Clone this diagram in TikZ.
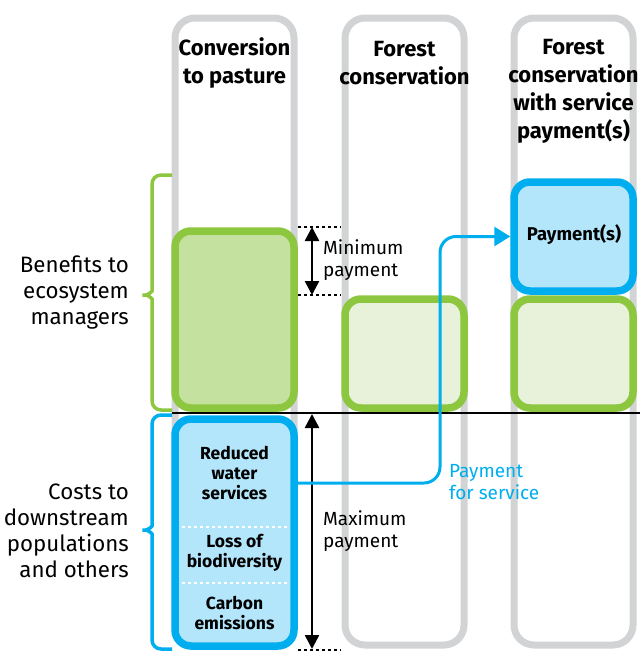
\documentclass[tikz,border=0pt]{standalone}
\usepackage{fontspec}
\setmainfont{Fira Sans}
\usetikzlibrary{arrows.meta}
\definecolor{colgray}{HTML}{D1D3D4}
\definecolor{grn}{HTML}{8DC63F}
\definecolor{grnfillA}{HTML}{C5E1A0}
\definecolor{grnfillB}{HTML}{E8F2DA}
\definecolor{blu}{HTML}{00AEEF}
\definecolor{blufill}{HTML}{B3E6FA}
\tikzset{
  column/.style={draw=colgray, line width=7pt, rounded corners=20pt, minimum width=119pt, minimum height=627pt, inner sep=0pt},
  greenbox/.style={draw=grn, line width=7.5pt, rounded corners=16pt, minimum width=119pt, inner sep=0pt},
  bluebox/.style={draw=blu, line width=7.5pt, rounded corners=16pt, minimum width=119pt, inner sep=0pt, fill=blufill},
  title/.style={font=\bfseries\fontsize{22}{28}\selectfont, align=center, inner sep=0pt},
  inbox/.style={font=\bfseries\fontsize{17.5}{20}\selectfont, align=center, inner sep=0pt},
  sidelabel/.style={font=\fontsize{22.3}{26}\selectfont, align=right, anchor=east, inner sep=0pt},
  note/.style={font=\fontsize{19}{22}\selectfont, align=left, anchor=west, inner sep=0pt},
  dimarrow/.style={line width=2.5pt, {Triangle[length=14pt,width=14pt]}-{Triangle[length=14pt,width=14pt]}},
  dotline/.style={line width=2pt, dash pattern=on 3pt off 3pt},
  sep/.style={white, line width=1.5pt, dash pattern=on 3pt off 3pt},
}
\begin{document}
\begin{tikzpicture}[x=1pt,y=-1pt]
\useasboundingbox (0,0) rectangle (640,651);
% columns
\node[column] (c1) at (234.5,331.5) {};
\node[column] (c2) at (404.5,331.5) {};
\node[column] (c3) at (573.5,331.5) {};
% titles
\node[title] (t1) at (234.5,63) {Conversion\\to pasture};
\node[title] (t2) at (404.5,63) {Forest\\conservation};
\node[title] (t3) at (573.5,91) {Forest\\conservation\\with service\\payment(s)};
% boxes
\node[greenbox, fill=grnfillA, minimum height=177pt] (g1) at (234.5,319.5) {};
\node[greenbox, fill=grnfillB, minimum height=109pt] (g2) at (404.5,353.5) {};
\node[greenbox, fill=grnfillB, minimum height=109pt] (g3) at (573.5,353.5) {};
\node[bluebox, minimum height=109pt] (pay) at (573.5,236.5) {};
\node[inbox, font=\bfseries\fontsize{18.5}{20}\selectfont] (paytxt) at (574,235) {Payment(s)};
\node[bluebox, minimum height=227pt] (cost) at (234.5,532.5) {};
\node[inbox] (rw) at (234.5,473) {Reduced\\water\\services};
\node[inbox] (lb) at (234.5,553) {Loss of\\biodiversity};
\node[inbox] (ce) at (234.5,613) {Carbon\\emissions};
\draw[sep] (182,527) -- (288,527);
\draw[sep] (182,583) -- (288,583);
% baseline
\coordinate (lineL) at (172,412.5);
\coordinate (lineR) at (640,412.5);
\draw[line width=2pt] (lineL) -- (lineR);
% brackets
\draw[grn, line width=3.5pt, rounded corners=9pt] (172,175) -- (152,175) -- (152,282)
  .. controls (152,292) and (147,295) .. (137,295)
  .. controls (147,295) and (152,298) .. (152,308) -- (152,410) -- (172,410);
\draw[blu, line width=3.5pt, rounded corners=9pt] (172,415) -- (152,415) -- (152,517)
  .. controls (152,527) and (147,530) .. (137,530)
  .. controls (147,530) and (152,533) .. (152,543) -- (152,649) -- (172,649);
% side labels
\node[sidelabel] (ben) at (129,293) {Benefits to\\ecosystem\\managers};
\node[sidelabel] (cst) at (129,531) {Costs to\\downstream\\populations\\and others};
% minimum payment
\coordinate (minT) at (312,227);
\coordinate (minB) at (312,295);
\draw[dotline] (298,227) -- (341,227);
\draw[dotline] (298,295) -- (341,295);
\draw[dimarrow] (minT) -- (minB);
\node[note] (minlab) at (323,260.5) {Minimum\\payment};
% maximum payment
\coordinate (maxT) at (312,414);
\coordinate (maxB) at (312,649);
\draw[dotline] (298,650) -- (341,650);
\draw[dimarrow] (maxT) -- (maxB);
\node[note] (maxlab) at (323,531.5) {Maximum\\payment};
% payment arrow
\coordinate (py) at (0,483);
\draw[blu, line width=3pt, rounded corners=16pt, -{Triangle[length=16pt,width=19pt]}]
  (cost.east |- py) -- (440,483) -- (440,236.5) -- (pay.west);
\node[note, text=blu] (paylab) at (449,482) {Payment\\for service};
\end{tikzpicture}
\end{document}
